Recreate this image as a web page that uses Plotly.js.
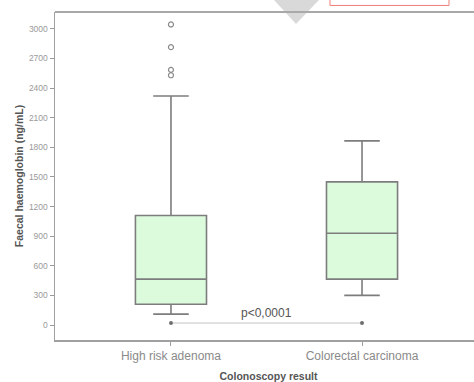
<!DOCTYPE html>
<html>
<head>
<meta charset="utf-8">
<script src="https://cdn.plot.ly/plotly-3.0.1.min.js"></script>
<style>
html,body{margin:0;padding:0;background:#fff;overflow:hidden;}
#wrap{width:474px;height:382px;overflow:hidden;}
#chart{width:482px;height:382px;}
</style>
</head>
<body>
<div id="wrap"><div id="chart"></div></div>
<script>
// Data
const categories = ["High risk adenoma", "Colorectal carcinoma"];
const lowerWhisker = [110, 300];
const q1Values = [210, 465];
const medianValues = [465, 930];
const q3Values = [1110, 1450];
const upperWhisker = [2320, 1865];
const outlierCategory = ["High risk adenoma", "High risk adenoma", "High risk adenoma", "High risk adenoma"];
const outlierValues = [3045, 2815, 2585, 2530];
const pValueLabel = "p&lt;0,0001";
const pLineY = [20, 20];
const yTicks = [0, 300, 600, 900, 1200, 1500, 1800, 2100, 2400, 2700, 3000];

const traces = [
  {
    type: "box",
    x: categories,
    q1: q1Values,
    median: medianValues,
    q3: q3Values,
    lowerfence: lowerWhisker,
    upperfence: upperWhisker,
    width: 0.372,
    whiskerwidth: 0.5,
    fillcolor: "#dcfadc",
    line: {color: "#7d7d7d", width: 1.6},
    boxpoints: false,
    hoverinfo: "skip",
    showlegend: false
  },
  {
    type: "scatter",
    mode: "markers",
    x: outlierCategory,
    y: outlierValues,
    marker: {symbol: "circle-open", size: 5, color: "#8a8a8a", line: {width: 1.2}},
    showlegend: false
  },
  {
    type: "scatter",
    mode: "lines+markers",
    x: categories,
    y: pLineY,
    line: {color: "#c4c4c4", width: 1},
    marker: {color: "#6e6e6e", size: 4},
    showlegend: false
  }
];

// plot area: x 55..482 px (last 8 px hidden off the 474 px window)
const layout = {
  width: 482,
  height: 382,
  margin: {l: 55, r: 0, t: 12, b: 42},
  paper_bgcolor: "#ffffff",
  plot_bgcolor: "#ffffff",
  font: {family: "Liberation Sans, Arial, sans-serif", color: "#888"},
  showlegend: false,
  xaxis: {
    type: "category",
    categoryorder: "array",
    categoryarray: categories,
    range: [-0.607, 1.628],
    showgrid: false,
    zeroline: false,
    showline: true,
    linecolor: "#a0a0a0",
    linewidth: 1.5,
    ticks: "outside",
    ticklen: 4,
    tickcolor: "#a0a0a0",
    tickfont: {size: 12, color: "#8a8a8a"},
    title: {text: "<b>Colonoscopy result</b>", font: {size: 10.5, color: "#555"}, standoff: 12}
  },
  yaxis: {
    range: [-152, 3171],
    tickvals: yTicks,
    ticktext: yTicks.map(String),
    showgrid: false,
    zeroline: false,
    showline: true,
    linecolor: "#a0a0a0",
    linewidth: 1.5,
    ticks: "outside",
    ticklen: 4,
    tickcolor: "#999",
    tickfont: {size: 8.5, color: "#9a9a9a"},
    title: {text: "<b>Faecal haemoglobin (ng/mL)</b>", font: {size: 10.5, color: "#555"}, standoff: 3}
  },
  annotations: [
    {
      x: 0.5, y: 120, xref: "x", yref: "y",
      text: pValueLabel,
      showarrow: false,
      font: {size: 12, color: "#555"}
    }
  ],
  shapes: [
    {type: "line", xref: "paper", yref: "paper", x0: 0, x1: 1, y0: 1, y1: 1,
     line: {color: "#a8a8a8", width: 2}},
    {type: "path", xref: "paper", yref: "paper",
     path: "M 0.5105 1.04 L 0.6206 1.04 L 0.5644 0.9634 Z",
     fillcolor: "rgba(170,170,170,0.45)", line: {width: 0}},
    {type: "rect", xref: "paper", yref: "paper",
     x0: 0.6440, x1: 0.9227, y0: 1.02, y1: 1.05,
     line: {color: "#f07f7a", width: 1}, fillcolor: "rgba(0,0,0,0)"}
  ]
};

Plotly.newPlot("chart", traces, layout, {displayModeBar: false, staticPlot: true});
</script>
</body>
</html>
